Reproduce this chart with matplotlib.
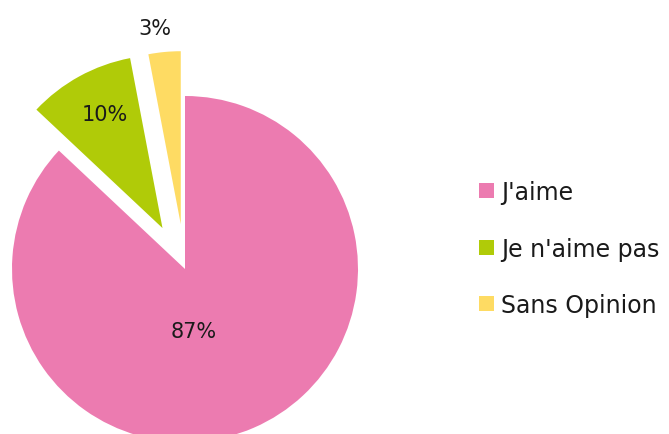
import matplotlib
matplotlib.use("Agg")
import matplotlib.pyplot as plt

categories = ["J'aime", "Je n'aime pas", "Sans Opinion"]
values = [87, 10, 3]
labels = ["87%", "10%", "3%"]
colors = ["#EC7BB0", "#B0CB08", "#FEDB63"]
explode = [0.0, 0.27, 0.26]

plt.rcParams['font.family'] = ['DejaVu Sans']

W, H = 669, 435
fig = plt.figure(figsize=(W / 100, H / 100), dpi=100)
ax = fig.add_axes([0, 0, 1, 1])

wedges, _ = ax.pie(values, colors=colors, explode=explode, startangle=90,
                   counterclock=False, radius=1.0,
                   wedgeprops=dict(linewidth=0))
for w in wedges:
    w.set_clip_on(False)

# pie centre at pixel (185, 270), radius 173 px
R = 173.0
cx, cy = 185.0, 270.0
ax.set_xlim(-cx / R, (W - cx) / R)
ax.set_ylim(-(H - cy) / R, cy / R)
ax.set_aspect('auto')
ax.axis('off')

label_pos = [(0.052, -0.358), (-0.462, 0.896), (-0.173, 1.392)]
for (x, y), t in zip(label_pos, labels):
    ax.text(x, y, t, ha='center', va='center', fontsize=15, color='#1a1a1a')

leg = fig.legend(wedges, categories, loc='upper left',
                 bbox_to_anchor=(479 / W, (H - 181) / H),
                 frameon=False, fontsize=17, handlelength=0.64,
                 handleheight=0.6, handletextpad=0.3,
                 labelspacing=1.38, borderpad=0, borderaxespad=0)
for t in leg.get_texts():
    t.set_color('#1a1a1a')

fig.savefig("out.png", dpi=100, facecolor='white')
